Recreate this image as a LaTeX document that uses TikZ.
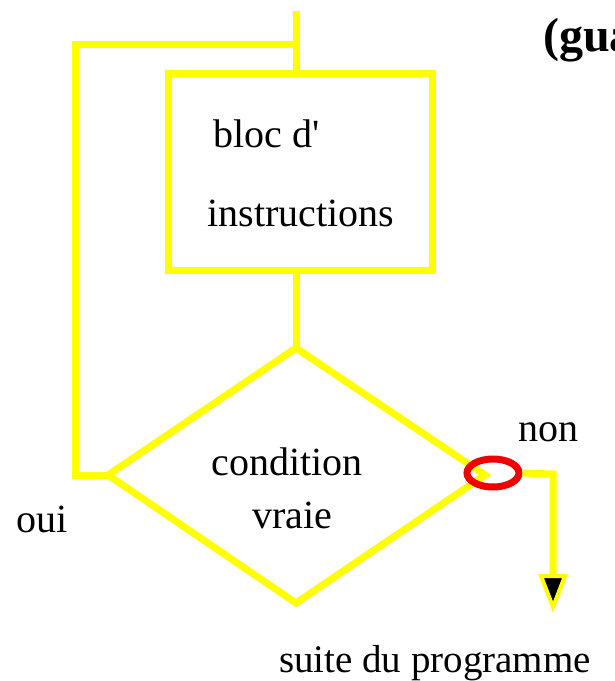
\documentclass[tikz,border=0pt]{standalone}
\usepackage{fontspec}
\setmainfont{Liberation Serif}
% same face, without the TeX quote mapping, for a straight apostrophe
\newfontfamily\straightserif{Liberation Serif}
\usetikzlibrary{shapes.geometric}
\definecolor{flowyellow}{RGB}{255,255,0}
\definecolor{flowred}{RGB}{240,0,0}
\tikzset{
  flow/.style={draw=flowyellow, line width=7pt},
  lbl/.style={font=\fontsize{40}{46}\selectfont, inner sep=0pt, anchor=base},
  tip/.style={fill=black, draw=flowyellow, line width=4pt, line join=miter}
}
\begin{document}
\begin{tikzpicture}[x=1pt, y=-1pt]
  \useasboundingbox (0,0) rectangle (615,681);
  \fill[white] (0,0) rectangle (615,681);

  % entry and loop-back points
  \coordinate (entry) at (296,11);
  \coordinate (join) at (296,44);
  \coordinate (loopTL) at (75,44);
  \coordinate (loopBL) at (75,475);

  % instruction block
  \node[flow, rectangle, minimum width=264pt, minimum height=197pt, inner sep=0pt]
    (bloc) at (300,171.5) {};
  \node[lbl, anchor=base west, font=\fontsize{40}{46}\straightserif] (t1) at (213,147) {bloc d'};
  \node[lbl] (t2) at (301,226) {instructions};

  % condition diamond
  \coordinate (dtop) at (296,348);
  \coordinate (dleft) at (108,475);
  \coordinate (dbot) at (296,603);
  \coordinate (dright) at (485,475);
  \draw[flow, line join=miter] (dtop) -- (dleft) -- (dbot) -- (dright) -- cycle;
  \node[lbl] (c1) at (287,475) {condition};
  \node[lbl] (c2) at (292,528) {vraie};

  % exit branch
  \node[draw=flowred, line width=7pt, ellipse, minimum width=52pt, minimum height=28pt, inner sep=0pt]
    (exit) at (493,473) {};
  \coordinate (bend) at (553,474);
  \coordinate (tipTop) at (553,576);
  \coordinate (tipEnd) at (553,607);

  % connectors
  \draw[flow] (entry) -- (bloc.north -| entry);
  \draw[flow] (join) -- (loopTL) -- (loopBL) -- (dleft);
  \draw[flow] (bloc.south -| dtop) -- (dtop);
  \draw[flow] (exit.east) -- (bend) -- (tipTop);
  \draw[tip] (541,576) -- (565,576) -- (tipEnd) -- cycle;

  % labels
  \node[lbl] (non) at (548,441) {non};
  \node[lbl] (oui) at (42,532) {oui};
  \node[lbl, font=\fontsize{39}{46}\selectfont] (suite) at (435,672) {suite du programme};
  \node[lbl, anchor=base west, font=\fontsize{48}{54}\selectfont\bfseries] (guard) at (543,51) {(gua};
\end{tikzpicture}
\end{document}
